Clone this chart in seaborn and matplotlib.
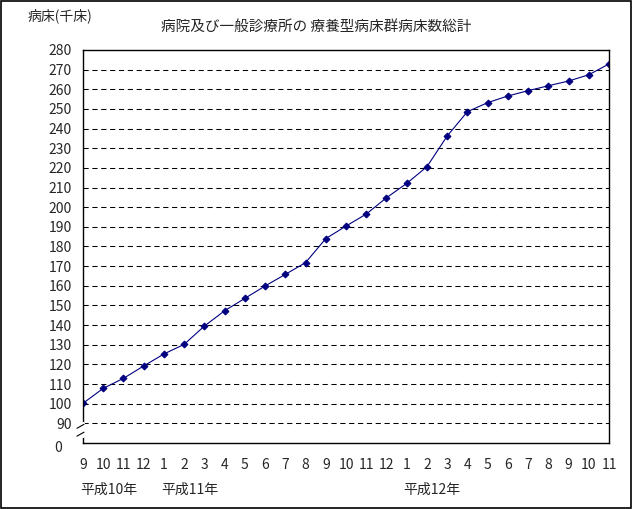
import matplotlib
matplotlib.use("Agg")
import matplotlib.pyplot as plt
import matplotlib.transforms as mtransforms
import seaborn as sns
import pandas as pd

# 平成10年9月 ～ 平成12年11月
months = [9, 10, 11, 12, 1, 2, 3, 4, 5, 6, 7, 8,
          9, 10, 11, 12, 1, 2, 3, 4, 5, 6, 7, 8, 9, 10, 11]
beds = [100.2, 107.8, 112.9, 119.2, 125.3, 130.2, 139.5, 147.3, 153.6,
        159.9, 165.8, 171.8, 184.0, 190.4, 196.5, 204.8, 212.1, 220.6,
        236.2, 248.6, 253.2, 256.6, 259.3, 261.8, 264.2, 267.4, 272.9]
year_labels = ["平成10年", "平成11年", "平成12年"]
year_start = [0, 4, 16]
y_ticks = [0] + list(range(90, 290, 10))

sns.set_theme(style="white")
plt.rcParams['font.family'] = ['Noto Sans CJK JP', 'DejaVu Sans']


def to_axis(v):
    # broken axis: 0 sits one step below 90
    return 0 if v == 0 else (v - 80) / 10


df = pd.DataFrame({"idx": range(len(beds)),
                   "pos": [to_axis(v) for v in beds]})

fig = plt.figure(figsize=(6.32, 5.09), dpi=100)
fig.patches.append(plt.Rectangle((0.001, 0.001), 0.997, 0.997, transform=fig.transFigure,
                                 fill=False, edgecolor="black", linewidth=1.2))
ax = fig.add_axes([83 / 632, 66 / 509, 526 / 632, 393 / 509])

sns.lineplot(data=df, x="idx", y="pos", ax=ax, color="#000080", linewidth=0.8,
             marker="D", markersize=3.5, markeredgecolor="#000080")

ax.set_xlim(0, len(beds) - 1)
ax.set_ylim(0, 20)
ax.set_yticks([to_axis(v) for v in y_ticks])
ax.set_yticklabels([str(v) for v in y_ticks], fontsize=10)
ax.set_xticks(range(len(months)))
ax.set_xticklabels([str(m) for m in months], fontsize=10)
ax.tick_params(axis="y", length=0, pad=8)
ax.tick_params(axis="x", direction="in", length=4, pad=11, color="black")
ax.set_xlabel("")
ax.set_ylabel("")
for s in ax.spines.values():
    s.set_color("black")
    s.set_linewidth(1.0)

# the "0" label sits a little further left and lower
zero = ax.get_yticklabels()[0]
zero.set_transform(zero.get_transform() +
                   mtransforms.ScaledTranslation(-10 / 100, -3 / 100, fig.dpi_scale_trans))

for p in range(1, 20):
    ax.axhline(p, color="black", linewidth=0.75, linestyle=(0, (5, 3.5)), zorder=0)

# axis break mark
ax.plot([0, 0], [0.35, 0.95], color="white", linewidth=3, clip_on=False, zorder=5)
ax.plot([-0.3, 0.05], [0.75, 0.95], color="black", linewidth=0.8, clip_on=False, zorder=6)
ax.plot([-0.3, 0.05], [0.35, 0.55], color="black", linewidth=0.8, clip_on=False, zorder=6)

for lab, i in zip(year_labels, year_start):
    ax.text(i - 0.15, -0.12, lab, transform=ax.get_xaxis_transform(),
            ha="left", va="center", fontsize=10)

fig.text(28 / 632, 1 - 16 / 509, "病床(千床)", ha="left", va="center", fontsize=10)
fig.text(316 / 632, 1 - 27 / 509, "病院及び一般診療所の 療養型病床群病床数総計",
         ha="center", va="center", fontsize=10.5)

fig.savefig("out.png", dpi=100)
